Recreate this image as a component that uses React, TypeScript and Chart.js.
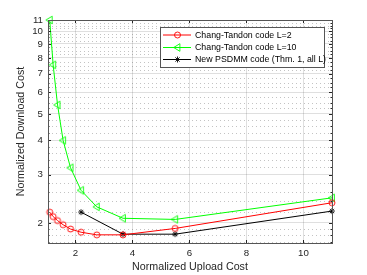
import React, { useEffect, useRef } from "react";
import { Chart, registerables } from "chart.js";

Chart.register(...registerables);

// ---- data ----
const uploadCost = [1.1, 1.22, 1.375, 1.57, 1.83, 2.2, 2.75, 3.67, 5.5, 11];
const ctL2Download = [2.19, 2.11, 2.04, 1.97, 1.9, 1.85, 1.81, 1.81, 1.91, 2.37];
const ctL10Download = [11.0, 7.55, 5.39, 4.0, 3.18, 2.63, 2.29, 2.08, 2.06, 2.47];
const psdmmUpload = [2.2, 3.67, 5.5, 11];
const psdmmDownload = [2.19, 1.82, 1.82, 2.21];

const xTicks = [2, 4, 6, 8, 10];
const yTicks = [2, 3, 4, 5, 6, 7, 8, 9, 10, 11];
const yMinor = [
  1.7, 1.8, 1.9, 2.2, 2.4, 2.6, 2.8, 3.2, 3.4, 3.6, 3.8, 4.25, 4.5, 4.75, 5.25, 5.5, 5.75,
  6.25, 6.5, 6.75, 7.25, 7.5, 7.75, 8.25, 8.5, 8.75, 9.25, 9.5, 9.75, 10.25, 10.5, 10.75,
];
const seriesLabels = [
  "Chang-Tandon code L=2",
  "Chang-Tandon code L=10",
  "New PSDMM code (Thm. 1, all L)",
];
const seriesColors = ["#ff0000", "#00ff00", "#000000"];
const seriesMarkers = ["circle", "triLeft", "star"];
const xLabel = "Normalized Upload Cost";
const yLabel = "Normalized Download Cost";

const AXIS = "#262626";
const FONT = "'Liberation Sans', Arial, Helvetica, sans-serif";

function drawMarker(ctx: CanvasRenderingContext2D, kind: string, x: number, y: number, color: string) {
  ctx.save();
  ctx.strokeStyle = color;
  ctx.lineWidth = 0.9;
  ctx.setLineDash([]);
  ctx.beginPath();
  if (kind === "circle") {
    ctx.arc(x, y, 3, 0, Math.PI * 2);
  } else if (kind === "triLeft") {
    ctx.moveTo(x - 3.8, y);
    ctx.lineTo(x + 2.4, y - 3.8);
    ctx.lineTo(x + 2.4, y + 3.8);
    ctx.closePath();
  } else {
    const r = 3;
    for (let i = 0; i < 4; i++) {
      const a = (i * Math.PI) / 4;
      ctx.moveTo(x - r * Math.cos(a), y - r * Math.sin(a));
      ctx.lineTo(x + r * Math.cos(a), y + r * Math.sin(a));
    }
  }
  ctx.stroke();
  ctx.restore();
}

const matlabPlugin = {
  id: "matlabLook",
  beforeDatasetsDraw(chart: any) {
    const { ctx, chartArea: a, scales } = chart;
    const ys = scales.y;
    ctx.save();
    ctx.strokeStyle = "rgba(38,38,38,0.28)";
    ctx.lineWidth = 1;
    ctx.setLineDash([1, 3]);
    for (const v of yMinor) {
      const py = Math.round(ys.getPixelForValue(v)) + 0.5;
      if (py < a.top || py > a.bottom) continue;
      ctx.beginPath();
      ctx.moveTo(a.left, py);
      ctx.lineTo(a.right, py);
      ctx.stroke();
    }
    ctx.restore();
  },
  afterDatasetsDraw(chart: any) {
    const { ctx, chartArea: a, scales } = chart;
    const xs = scales.x;
    const ys = scales.y;
    ctx.save();
    ctx.strokeStyle = AXIS;
    ctx.lineWidth = 1;
    ctx.setLineDash([]);
    // ticks
    ctx.beginPath();
    for (const v of yTicks) {
      const py = Math.round(ys.getPixelForValue(v)) + 0.5;
      ctx.moveTo(a.left, py);
      ctx.lineTo(a.left + 3, py);
      ctx.moveTo(a.right, py);
      ctx.lineTo(a.right - 3, py);
    }
    for (const v of yMinor) {
      const py = Math.round(ys.getPixelForValue(v)) + 0.5;
      if (py < a.top || py > a.bottom) continue;
      ctx.moveTo(a.left, py);
      ctx.lineTo(a.left + 1.5, py);
      ctx.moveTo(a.right, py);
      ctx.lineTo(a.right - 1.5, py);
    }
    for (const v of xTicks) {
      const px = Math.round(xs.getPixelForValue(v)) + 0.5;
      ctx.moveTo(px, a.bottom);
      ctx.lineTo(px, a.bottom - 3);
      ctx.moveTo(px, a.top);
      ctx.lineTo(px, a.top + 3);
    }
    ctx.stroke();
    // box
    ctx.strokeStyle = "#555555";
    ctx.strokeRect(Math.round(a.left) + 0.5, Math.round(a.top) + 0.5, Math.round(a.right - a.left), Math.round(a.bottom - a.top));
    ctx.restore();
  },
  afterDraw(chart: any) {
    const { ctx } = chart;
    const L = 160.5, T = 27.5, W = 164, H = 40;
    ctx.save();
    ctx.fillStyle = "#ffffff";
    ctx.fillRect(L, T, W, H);
    ctx.strokeStyle = "#555555";
    ctx.lineWidth = 1;
    ctx.strokeRect(L, T, W, H);
    ctx.font = `8.8px ${FONT}`;
    ctx.textBaseline = "middle";
    ctx.textAlign = "left";
    const rows = [35, 47.5, 59.5];
    seriesLabels.forEach((lab, i) => {
      const y = rows[i];
      ctx.strokeStyle = seriesColors[i];
      ctx.lineWidth = 1;
      ctx.beginPath();
      ctx.moveTo(163, y);
      ctx.lineTo(191, y);
      ctx.stroke();
      drawMarker(ctx, seriesMarkers[i], 177.5, y, seriesColors[i]);
      ctx.fillStyle = "#000000";
      ctx.fillText(lab, 195, y + 0.5);
    });
    ctx.restore();
  },
};

function makePointStyle(kind: string, color: string): HTMLCanvasElement {
  const c = document.createElement("canvas");
  c.width = 12;
  c.height = 12;
  const g = c.getContext("2d")!;
  drawMarker(g, kind, 6, 6, color);
  return c;
}

export default function App() {
  const ref = useRef<HTMLCanvasElement | null>(null);
  useEffect(() => {
    if (!ref.current) return;
    const toPts = (xs: number[], ys: number[]) => xs.map((x, i) => ({ x, y: ys[i] }));
    const chart = new Chart(ref.current, {
      type: "scatter",
      data: {
        datasets: [
          {
            label: seriesLabels[0],
            data: toPts(uploadCost, ctL2Download),
            showLine: true,
            borderColor: seriesColors[0],
            borderWidth: 1,
            pointStyle: makePointStyle(seriesMarkers[0], seriesColors[0]) as any,
            pointRadius: 3,
          },
          {
            label: seriesLabels[1],
            data: toPts(uploadCost, ctL10Download),
            showLine: true,
            borderColor: seriesColors[1],
            borderWidth: 1,
            pointStyle: makePointStyle(seriesMarkers[1], seriesColors[1]) as any,
            pointRadius: 3,
          },
          {
            label: seriesLabels[2],
            data: toPts(psdmmUpload, psdmmDownload),
            showLine: true,
            borderColor: seriesColors[2],
            borderWidth: 1,
            pointStyle: makePointStyle(seriesMarkers[2], seriesColors[2]) as any,
            pointRadius: 3,
          },
        ],
      },
      options: {
        animation: false,
        responsive: false,
        maintainAspectRatio: false,
        clip: false as any,
        layout: { padding: { left: 0, top: 20, right: 35, bottom: 0 } },
        plugins: { legend: { display: false }, tooltip: { enabled: false } },
        scales: {
          x: {
            type: "linear",
            min: 1.04,
            max: 11,
            afterBuildTicks: (s: any) => {
              s.ticks = xTicks.map((v) => ({ value: v }));
            },
            afterFit: (s: any) => {
              s.height = 32;
            },
            grid: { color: "rgba(38,38,38,0.15)", drawTicks: false },
            border: { display: false },
            ticks: {
              padding: 5,
              color: AXIS,
              font: { family: FONT, size: 9.7 },
              maxRotation: 0,
              autoSkip: false,
              callback: (v: any) => String(v),
            },
            title: {
              display: true,
              text: xLabel,
              color: AXIS,
              font: { family: FONT, size: 10.7 },
              padding: { top: 0, bottom: 1.5 },
            },
          },
          y: {
            type: "logarithmic",
            min: 1.69,
            max: 11,
            afterBuildTicks: (s: any) => {
              s.ticks = yTicks.map((v) => ({ value: v }));
            },
            afterFit: (s: any) => {
              s.width = 48;
            },
            grid: { color: "rgba(38,38,38,0.15)", drawTicks: false },
            border: { display: false },
            ticks: {
              padding: 5,
              color: AXIS,
              font: { family: FONT, size: 9.7 },
              autoSkip: false,
              callback: (v: any) => String(v),
            },
            title: {
              display: true,
              text: yLabel,
              color: AXIS,
              font: { family: FONT, size: 10.7 },
              padding: { top: 15, bottom: 0 },
            },
          },
        },
      },
      plugins: [matlabPlugin],
    });
    return () => chart.destroy();
  }, []);
  return (
    <div style={{ position: "fixed", left: 0, top: 0, width: 367, height: 275, background: "#fff" }}>
      <canvas ref={ref} width={367} height={275} style={{ display: "block" }} />
    </div>
  );
}
